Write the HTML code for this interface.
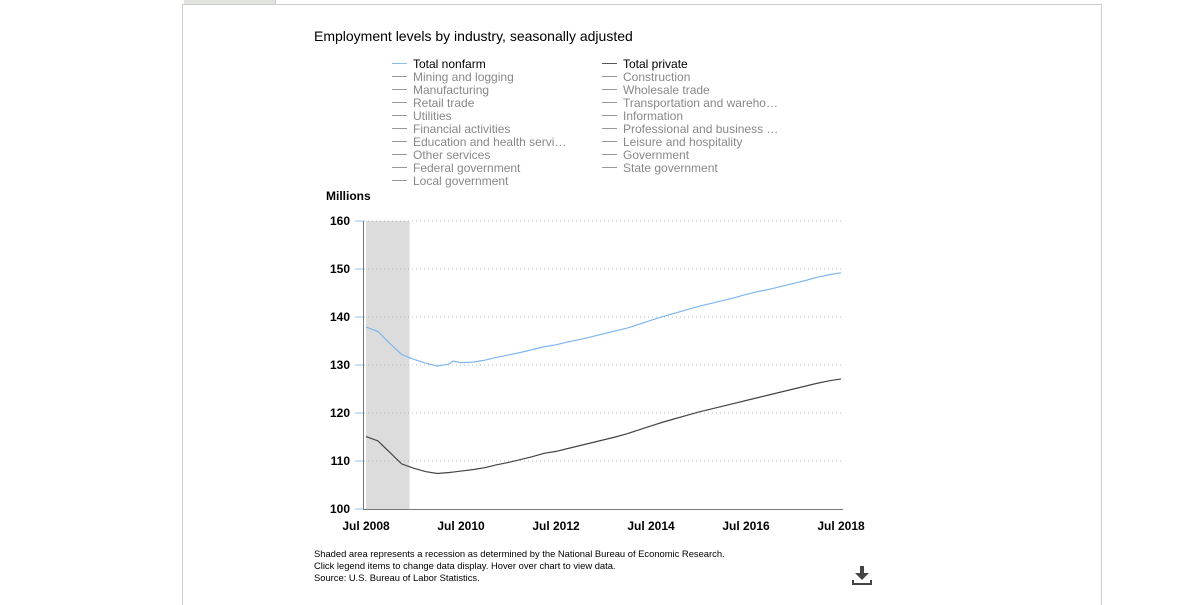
<!DOCTYPE html>
<html><head><meta charset="utf-8">
<style>
body{margin:0;background:#fff;width:1192px;height:590px;overflow:hidden;font-family:"Liberation Sans",Arial,sans-serif;position:relative}
.frame{position:absolute;left:182px;top:4px;width:918px;height:600px;border-left:1px solid #ccc;border-top:1px solid #ccc;border-right:1px solid #ccc}
.tab{position:absolute;left:184px;top:0;width:91px;height:4px;background:#e2e5df;border-right:1px solid #ccc}
.title{position:absolute;left:314px;top:28px;font-size:14px;color:#000}
.leg{position:absolute;font-size:12px;line-height:13px;color:#888}
.leg div{white-space:nowrap;cursor:pointer}
.leg span.sw{display:inline-block;width:15px;height:1px;background:#999;vertical-align:middle;margin-right:6px;position:relative;top:-1px}
.note{position:absolute;left:314px;top:548px;font-size:9.4px;line-height:12px;color:#000}
</style></head><body>
<div class="tab"></div>
<div class="frame"></div>
<div class="title">Employment levels by industry, seasonally adjusted</div>
<div class="leg" style="left:392px;top:58px">
<div style="color:#000"><span class="sw" style="background:#8cbcec"></span>Total nonfarm</div>
<div><span class="sw"></span>Mining and logging</div>
<div><span class="sw"></span>Manufacturing</div>
<div><span class="sw"></span>Retail trade</div>
<div><span class="sw"></span>Utilities</div>
<div><span class="sw"></span>Financial activities</div>
<div><span class="sw"></span>Education and health servi…</div>
<div><span class="sw"></span>Other services</div>
<div><span class="sw"></span>Federal government</div>
<div><span class="sw"></span>Local government</div>
</div>
<div class="leg" style="left:602px;top:58px">
<div style="color:#000"><span class="sw" style="background:#555"></span>Total private</div>
<div><span class="sw"></span>Construction</div>
<div><span class="sw"></span>Wholesale trade</div>
<div><span class="sw"></span>Transportation and wareho…</div>
<div><span class="sw"></span>Information</div>
<div><span class="sw"></span>Professional and business …</div>
<div><span class="sw"></span>Leisure and hospitality</div>
<div><span class="sw"></span>Government</div>
<div><span class="sw"></span>State government</div>
</div>
<svg id="chart" width="1192" height="590" style="position:absolute;left:0;top:0"></svg>
<div class="note">Shaded area represents a recession as determined by the National Bureau of Economic Research.<br>Click legend items to change data display. Hover over chart to view data.<br>Source: U.S. Bureau of Labor Statistics.</div>
<svg style="position:absolute;left:850px;top:565px" width="24" height="22">
<rect x="10" y="1" width="4" height="8" fill="#444"/><polygon points="5,8 19,8 12,15" fill="#444"/>
<rect x="2" y="18" width="20" height="2" fill="#444"/><rect x="2" y="15" width="2" height="5" fill="#444"/><rect x="20" y="15" width="2" height="5" fill="#444"/>
</svg>
<script>
// months since Jul 2008
const months=[0,3,6,9,12,15,18,21,22,24,27,30,33,36,39,42,45,48,51,54,57,60,63,66,69,72,75,78,81,84,87,90,93,96,99,102,105,108,111,114,117,120];
const nonfarm=[137.9,137.0,134.5,132.2,131.2,130.4,129.8,130.2,130.8,130.5,130.6,131.0,131.6,132.1,132.6,133.2,133.8,134.2,134.8,135.3,135.9,136.5,137.1,137.7,138.5,139.3,140.1,140.8,141.5,142.2,142.8,143.4,144.0,144.7,145.3,145.8,146.4,147.0,147.6,148.3,148.8,149.2];
const privateEmp=[115.1,114.2,111.8,109.4,108.5,107.8,107.4,107.6,107.7,107.9,108.2,108.6,109.2,109.7,110.3,110.9,111.6,112.0,112.6,113.2,113.8,114.4,115.0,115.7,116.5,117.3,118.1,118.8,119.5,120.2,120.8,121.4,122.0,122.6,123.2,123.8,124.4,125.0,125.6,126.2,126.7,127.1];
const yTicks=[100,110,120,130,140,150,160];
const xTickMonths=[0,24,48,72,96,120];
const xTickLabels=["Jul 2008","Jul 2010","Jul 2012","Jul 2014","Jul 2016","Jul 2018"];
const recession=[0,11];
const NS="http://www.w3.org/2000/svg";
const svg=document.getElementById('chart');
const X0=366,X1=841,Y0=509,Y1=221;
const xs=m=>X0+(X1-X0)*m/120;
const ys=v=>Y0-(Y0-Y1)*(v-100)/60;
function el(t,a){const e=document.createElementNS(NS,t);for(const k in a)e.setAttribute(k,a[k]);svg.appendChild(e);return e;}
const sh=el('rect',{x:xs(recession[0]),y:Y1,width:xs(recession[1])-xs(recession[0]),height:Y0-Y1,fill:'#dcdcdc'});


yTicks.forEach(v=>{
  if(v>100){const g=el('line',{x1:364,x2:843,y1:ys(v),y2:ys(v),stroke:'#bbb','stroke-dasharray':'1,3'});
  
  }
  const tk=el('line',{x1:355,x2:364,y1:ys(v),y2:ys(v),stroke:'#9cc3e8'});
  
  
  const t=el('text',{x:350,y:ys(v)+4,'text-anchor':'end','font-size':12,'font-weight':'bold',fill:'#000'});t.textContent=v;
  
  
});
const ax=el('line',{x1:363.5,x2:363.5,y1:Y1,y2:Y0+1,stroke:'#777'});


const bx=el('line',{x1:363,x2:843,y1:Y0+0.5,y2:Y0+0.5,stroke:'#777'});


xTickMonths.forEach((m,i)=>{
  const t=el('text',{x:xs(m),y:530,'text-anchor':'middle','font-size':12,'font-weight':'bold',fill:'#000'});t.textContent=xTickLabels[i];
  
  
});
const yt=el('text',{x:326,y:200,'font-size':12,'font-weight':'bold',fill:'#000'});yt.textContent='Millions';


function line(vals,color,name){
  const p=el('polyline',{points:vals.map((v,i)=>xs(months[i])+','+ys(v)).join(' '),fill:'none',stroke:color,'stroke-width':1.2});
  
  
}
line(nonfarm,'#7fb6ee','line-total-nonfarm');
line(privateEmp,'#444','line-total-private');
</script>
</body></html>
